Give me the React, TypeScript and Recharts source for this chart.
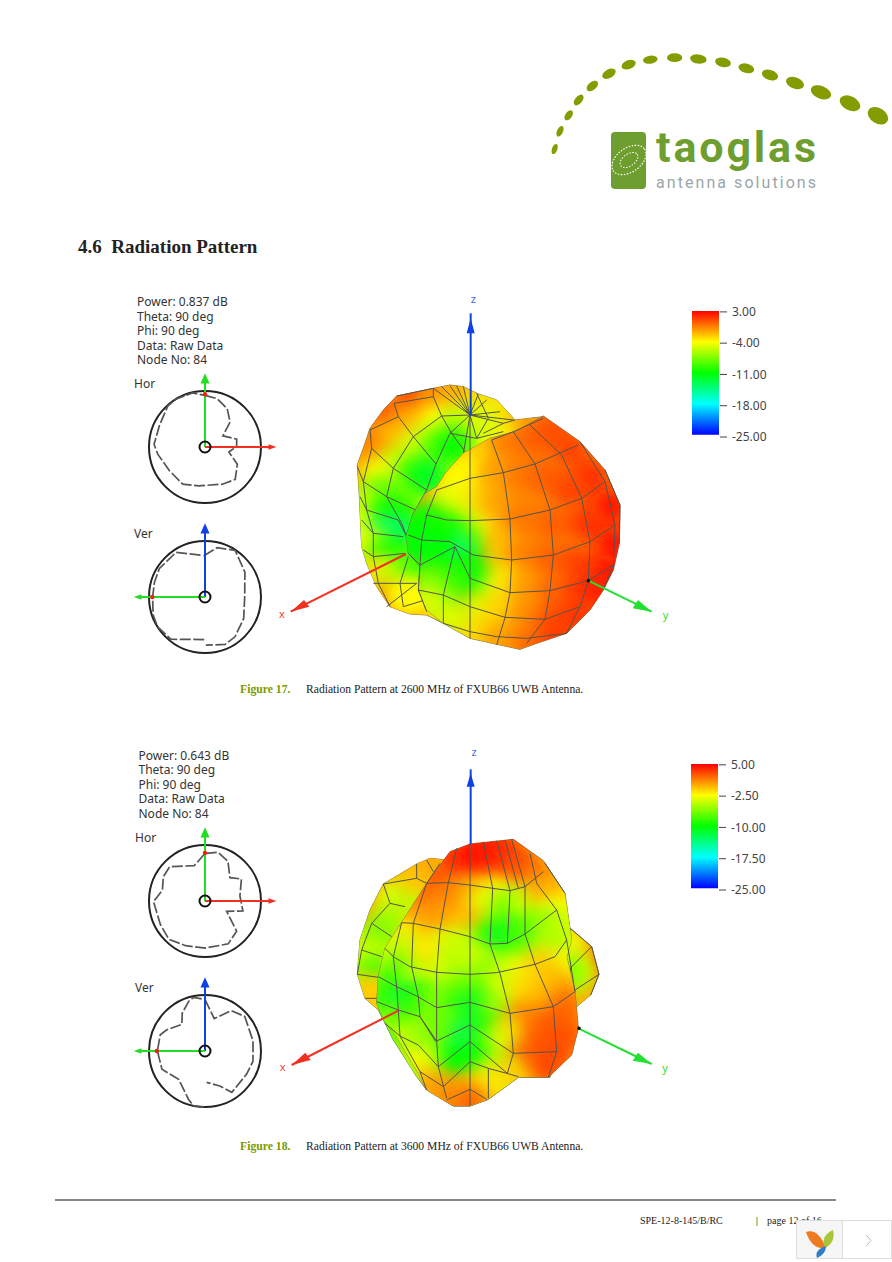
import { Bar, BarChart, PolarAngleAxis, PolarGrid, PolarRadiusAxis, Radar, RadarChart, Scatter, ScatterChart, XAxis, YAxis } from "recharts";

type Pair = [number, number];
type Sample = [number, number, number];

// ---- polar cuts: [angle clockwise from top, radius / outer circle], null = gap in the trace
const hor17: [number, number | null][] = [[0, 0.93], [14, 0.9], [30, 0.8], [45, 0.64], [58, 0.38], [76, 0.59], [89, 0.57], [102, 0.44], [118, 0.66], [137, 0.8], [155, 0.74], [189, 0.71], [211, 0.78], [236, 0.77], [261, 0.86], [273, 0.92], [296, 0.91], [318, 1], [329, 1.01], [347, 1], [360, 0.93]];
const ver17: [number, number | null][] = [[359, 0.74], [14, 0.91], [33, 0.99], [58, 0.84], [88, 0.71], [119, 0.79], [143, 0.89], [157, 0.92], [179, 0.86], [180, null], [181, 0.76], [219, 0.97], [238, 1], [251, 0.98], [270, 0.935], [286, 0.94], [302, 0.96], [327, 0.95], [340, 0.82], [358, 0.74]];
const hor18: [number, number | null][] = [[1, 0.85], [15, 0.9], [30, 0.82], [47, 0.61], [59, 0.76], [82, 0.63], [105, 0.7], [116, 0.43], [134, 0.78], [152, 0.87], [180, 0.84], [204, 0.87], [224, 0.94], [243, 0.9], [270, 0.92], [285, 0.785], [301, 0.86], [315, 0.88], [344, 0.66], [361, 0.85]];
const ver18: [number, number | null][] = [[0, 0.92], [3, 0.83], [16, 0.6], [33, 0.86], [49, 0.94], [78, 0.876], [102, 0.876], [119, 0.85], [147, 0.88], [157, 0.68], [177, 0.56], [179, null], [181, 1], [192, 1], [199, 0.91], [223, 0.69], [247, 0.835], [270, 0.85], [290, 0.85], [299, 0.78], [319, 0.63], [329, 0.79], [342, 0.935], [348, 0.98], [360, 0.92]];

// ---- colour scales
const ticks17 = [-25, -18, -11, -4, 3];
const ticks18 = [-25, -17.5, -10, -2.5, 5];
const bar17: Pair = [-24.5, 3.2];
const bar18: Pair = [-24.6, 5.2];

// ---- 3D pattern at 2600 MHz, projected outline / colour samples [x, y, dB] / mesh
const back17Outline: Pair[] = [[380, 318], [490, 295], [540, 285], [580, 290], [625, 312], [680, 330], [735, 390], [820, 380], [730, 430], [600, 600], [520, 1000], [470, 975], [420, 972], [360, 950], [320, 890], [290, 820], [275, 770], [268, 620], [262, 525], [285, 460], [300, 415], [340, 360]];
const back17Samples: Sample[] = [[420, 325, 1.6], [350, 375, 1], [300, 440, 0], [490, 320, -0.5], [560, 315, -1.5], [640, 335, -3], [700, 370, -3], [780, 395, -1], [420, 395, -1.5], [360, 450, -2], [300, 500, -0.5], [275, 560, -1], [500, 400, -4], [570, 400, -6], [640, 400, -5], [440, 470, -5], [380, 530, -6], [320, 560, -4], [500, 470, -8], [550, 470, -11], [440, 560, -10], [380, 620, -8], [320, 620, -9], [285, 650, -5], [480, 560, -12], [400, 680, -10], [340, 680, -11], [280, 720, -4], [340, 730, -13], [380, 740, -14], [295, 770, -4], [330, 800, -8], [370, 800, -11], [400, 830, -9], [310, 850, -3], [360, 870, -5], [400, 890, -6], [440, 860, -10], [350, 940, 0], [420, 960, 0], [400, 920, -4], [440, 920, -4]];
const back17Mesh: Pair[][] = [
  [[380, 318], [490, 295]], [[372, 340], [490, 320], [515, 378], [600, 375]], [[372, 340], [385, 380], [430, 440], [498, 522], [470, 600], [430, 670], [408, 740]],
  [[490, 295], [490, 320]], [[515, 378], [545, 430], [585, 485]], [[300, 420], [385, 380]], [[430, 440], [515, 378]], [[430, 440], [370, 535], [350, 620], [395, 700], [410, 740]],
  [[300, 420], [305, 475], [280, 575], [290, 660], [310, 730], [310, 800], [325, 880], [360, 950]], [[305, 475], [370, 535], [470, 600]], [[262, 530], [280, 575], [350, 620], [470, 675]],
  [[270, 620], [290, 660], [385, 690], [410, 740]], [[275, 690], [310, 730], [400, 740]], [[280, 780], [310, 800], [405, 790]], [[310, 880], [390, 880], [440, 880]],
  [[415, 800], [390, 880], [400, 950]], [[440, 880], [350, 950]], [[400, 950], [465, 930]], [[540, 430], [498, 522]], [[600, 375], [540, 430]], [[600, 375], [580, 490]],
  [[600, 375], [490, 295]], [[600, 375], [515, 290]], [[600, 375], [540, 287]], [[600, 375], [560, 288]], [[600, 375], [580, 290]], [[600, 375], [625, 312]], [[600, 375], [650, 330]], [[600, 375], [690, 365]], [[600, 375], [730, 390]], [[600, 375], [700, 400]], [[600, 375], [620, 445]],
  [[540, 430], [620, 445], [700, 425]], [[620, 310], [655, 385], [620, 445]], [[735, 390], [700, 400], [640, 430]],
];
const front17Outline: Pair[] = [[735, 425], [820, 378], [880, 420], [930, 455], [1005, 540], [1050, 645], [1048, 760], [1030, 840], [1000, 900], [960, 960], [890, 1030], [800, 1060], [750, 1078], [690, 1065], [600, 1045], [520, 1000], [470, 960], [445, 900], [450, 830], [415, 790], [408, 740], [430, 670], [465, 610], [500, 590], [530, 545], [580, 490], [660, 445]];
const front17Samples: Sample[] = [[640, 470, -2.5], [720, 470, -0.5], [790, 450, 0.3], [850, 420, 0.8], [900, 480, 1.2], [960, 560, 1.8], [590, 530, -3.5], [680, 560, -1.5], [760, 560, -0.3], [830, 560, 0.4], [900, 600, 1.2], [1020, 650, 2.7], [610, 630, -2.8], [680, 670, -1.5], [760, 690, -0.3], [850, 700, 0.4], [950, 700, 1.6], [1030, 760, 2.7], [620, 720, -3.5], [690, 780, -2.5], [760, 800, -0.6], [840, 810, 0.3], [920, 820, 1.2], [1010, 850, 2.6], [640, 880, -6], [700, 880, -3.5], [770, 900, -1.3], [850, 910, 0.2], [930, 900, 1.2], [980, 900, 2.2], [620, 960, -5], [690, 970, -3], [770, 980, -1], [850, 990, 0.6], [920, 980, 1.6], [610, 1025, -3], [700, 1050, -1.5], [780, 1060, 0], [860, 1040, 1.4], [555, 570, -4], [530, 630, -4.5], [560, 690, -5], [540, 730, -10], [580, 760, -9], [550, 790, -15], [590, 840, -11], [550, 860, -10], [520, 920, -9], [500, 740, -11], [470, 690, -10.5], [450, 770, -11.5], [480, 810, -11], [430, 720, -11], [480, 880, -8], [470, 940, -5], [540, 985, -5]];
const front17Mesh: Pair[][] = [
  [[665, 450], [730, 425], [820, 385]], [[500, 600], [600, 565], [700, 548], [795, 522], [925, 465]], [[470, 675], [530, 690], [600, 692], [720, 687], [840, 660], [935, 625], [1005, 575]],
  [[415, 735], [455, 750], [540, 755], [610, 795], [725, 810], [850, 795], [960, 755], [1035, 705]], [[415, 790], [450, 825], [555, 770], [600, 865], [720, 908], [840, 902], [955, 872], [1030, 825]],
  [[445, 900], [520, 915], [600, 950], [705, 982], [825, 988], [930, 950]], [[520, 1000], [600, 1025], [680, 1040], [770, 1045], [890, 1030]],
  [[600, 375], [600, 1045]], [[665, 450], [700, 548], [720, 687], [725, 810], [720, 908], [705, 983], [680, 1065]], [[730, 425], [795, 522], [840, 660], [850, 795], [840, 902], [825, 988], [770, 1060]],
  [[780, 405], [875, 495], [935, 625], [960, 755], [955, 872], [930, 950], [890, 1030]], [[930, 455], [1005, 575], [1035, 705], [1030, 825], [1000, 900]], [[1005, 540], [1050, 645], [1048, 760]],
  [[500, 600], [470, 675], [455, 750], [450, 825], [445, 900], [470, 965]], [[555, 770], [520, 915], [520, 1000]],
];
const xAxis17: Pair[] = [[408, 792], [62, 965]];
const yAxis17: Pair[] = [[955, 872], [1145, 965]];
const zAxis17: Pair[] = [[602, 375], [602, 70]];
const xHead17: Pair[] = [[62, 965], [118, 950], [102, 930]];
const yHead17: Pair[] = [[1145, 965], [1088, 955], [1104, 930]];
const zHead17: Pair[] = [[602, 85], [590, 130], [614, 130]];
const labels17 = [{ x: 36, y: 985, name: "x", fill: "#f04030" }, { x: 610, y: 40, name: "z", fill: "#4a6cf0" }, { x: 1187, y: 986, name: "y", fill: "#33dd33" }];
const node17: Pair[] = [[955, 872]];

// ---- 3D pattern at 3600 MHz
const back18Outline: Pair[] = [[340, 432], [440, 372], [480, 355], [530, 360], [700, 500], [895, 560], [965, 620], [987, 703], [962, 765], [920, 800], [840, 1012], [745, 1012], [655, 1078], [600, 1098], [550, 1098], [470, 1050], [440, 1010], [370, 900], [325, 810], [285, 775], [262, 703], [270, 600], [300, 510]];
const back18Samples: Sample[] = [[470, 375, 0], [400, 410, 1], [345, 470, 1], [295, 540, 0.5], [280, 610, -2], [370, 470, -3], [420, 470, -4.5], [360, 540, -5], [320, 590, -6.5], [300, 650, -4], [275, 700, -3], [310, 700, -8], [290, 760, -1], [330, 775, -1], [930, 620, 1.5], [965, 680, 2.8], [945, 740, 0.5], [930, 785, 0], [900, 610, -3], [920, 690, -3], [900, 700, -6], [440, 410, -1], [490, 370, 0], [370, 890, -7], [420, 980, -5]];
const back18Mesh: Pair[][] = [
  [[340, 432], [360, 490], [305, 550], [275, 630], [262, 703]], [[340, 432], [440, 415], [440, 372]], [[360, 490], [405, 500]], [[305, 550], [365, 590]], [[275, 630], [335, 650]], [[262, 703], [325, 712]], [[285, 775], [325, 775]],
  [[470, 360], [490, 395]], [[440, 415], [470, 430]], [[895, 560], [965, 620], [987, 703], [962, 765]], [[965, 620], [905, 680], [890, 705], [915, 755]], [[987, 703], [915, 750]], [[860, 630], [890, 600]], [[905, 680], [895, 720]],
];
const front18Outline: Pair[] = [[600, 312], [730, 298], [820, 362], [885, 460], [905, 600], [890, 650], [915, 755], [925, 865], [905, 945], [835, 1012], [745, 1012], [655, 1078], [600, 1098], [550, 1098], [470, 1050], [445, 1000], [380, 890], [340, 840], [320, 790], [325, 710], [345, 625], [395, 548], [470, 430], [540, 335]];
const front18Samples: Sample[] = [[600, 345, 4.5], [555, 365, 4], [650, 335, 4.5], [700, 335, 4.2], [750, 370, 3], [500, 420, 3], [800, 410, 2], [470, 470, 2], [540, 470, 1.5], [600, 470, 0.5], [640, 500, -3], [680, 510, -3.5], [720, 510, -7], [770, 500, -4], [830, 450, 0], [860, 520, -2.5], [420, 530, 1], [430, 590, 0], [510, 530, 0.5], [590, 550, -0.5], [540, 620, -4], [600, 630, -4], [670, 590, -9], [710, 605, -11], [770, 580, -8], [830, 560, -6], [880, 580, -4], [390, 580, -2], [760, 630, -8], [840, 620, -5], [870, 680, -3], [360, 640, -4], [420, 650, -5], [470, 640, -2], [470, 700, -1.5], [550, 670, -4.5], [620, 670, -4], [680, 690, -6], [750, 700, -2.5], [810, 680, -1], [870, 750, 0], [345, 720, -6], [395, 720, -9], [440, 720, -4], [500, 730, -3.5], [570, 740, -6], [630, 750, -7], [700, 730, -4], [770, 750, -1.5], [830, 760, -0.5], [890, 800, 1.8], [340, 790, -9], [410, 790, -12], [450, 780, -9], [500, 790, -6], [560, 800, -8], [610, 810, -11], [680, 820, -5], [760, 840, 1.5], [840, 860, 2.5], [890, 880, 2.5], [360, 850, -6], [420, 850, -9], [470, 860, -6], [530, 860, -7], [600, 880, -12], [650, 870, -9], [720, 880, -1], [800, 900, 2.2], [860, 930, 2.8], [400, 900, -4], [460, 930, -6], [520, 930, -7], [590, 930, -13], [650, 930, -8], [700, 920, -3], [760, 960, 2.5], [830, 980, 3], [440, 970, -3], [500, 1000, -3], [560, 970, -10], [620, 970, -10], [680, 990, -5], [720, 1005, -1], [480, 1040, 0], [540, 1065, 1], [600, 1060, 0], [650, 1040, -2], [600, 1088, 2]];
const front18Mesh: Pair[][] = [
  [[600, 312], [600, 1098]], [[470, 430], [535, 428], [600, 435], [668, 445], [720, 452], [765, 440], [820, 395]], [[395, 548], [430, 550], [510, 567], [600, 590], [660, 612], [712, 610], [765, 582], [860, 510]],
  [[345, 625], [370, 650], [420, 680], [500, 697], [600, 703], [680, 698], [795, 673], [855, 650], [890, 600]], [[325, 710], [380, 740], [440, 768], [500, 803], [600, 787], [720, 820], [850, 800], [915, 755]],
  [[320, 785], [385, 810], [450, 830], [500, 903], [600, 855], [730, 940], [860, 935]], [[345, 850], [390, 888], [445, 915], [505, 980], [600, 905], [712, 1000]], [[450, 995], [520, 1040], [600, 965], [655, 985], [710, 1000], [745, 1010]], [[530, 1080], [600, 1048], [650, 1078]],
  [[560, 325], [535, 428], [510, 567], [500, 697], [500, 803], [500, 903], [505, 980], [530, 1075]], [[510, 370], [470, 430], [430, 550], [425, 680], [445, 770], [450, 830], [497, 905]], [[395, 548], [370, 650], [380, 740], [385, 810], [390, 888], [450, 995], [470, 1050]],
  [[640, 305], [668, 445], [660, 612], [690, 700], [720, 820], [730, 940], [712, 1000]], [[680, 302], [720, 452], [712, 610]], [[705, 300], [745, 445]], [[725, 298], [765, 440], [765, 582], [795, 673], [850, 800], [860, 935], [835, 1012]],
  [[780, 340], [800, 430], [860, 510], [890, 600], [915, 755]], [[655, 985], [655, 1075]], [[825, 370], [885, 460]],
];
const xAxis18: Pair[] = [[385, 812], [65, 975]];
const yAxis18: Pair[] = [[925, 865], [1145, 972]];
const zAxis18: Pair[] = [[602, 312], [602, 88]];
const xHead18: Pair[] = [[65, 975], [122, 960], [106, 938]];
const yHead18: Pair[] = [[1145, 972], [1088, 962], [1104, 938]];
const zHead18: Pair[] = [[602, 100], [590, 140], [614, 140]];
const labels18 = [{ x: 38, y: 993, name: "x", fill: "#f04030" }, { x: 612, y: 49, name: "z", fill: "#4a6cf0" }, { x: 1185, y: 995, name: "y", fill: "#33dd33" }];
const node18: Pair[] = [[927, 865]];

const info17 = ["Power: 0.837 dB", "Theta: 90 deg", "Phi: 90 deg", "Data: Raw Data", "Node No: 84"];
const info18 = ["Power: 0.643 dB", "Theta: 90 deg", "Phi: 90 deg", "Data: Raw Data", "Node No: 84"];

// logo dots: x, y, rx, ry, rotation
const logoDots = [[44, 327, 8, 16, 20], [60, 274, 9, 17, 25], [86, 226, 10, 17, 35], [116, 180, 11, 19, 40], [157, 138, 20, 12, -40], [207, 101, 22, 13, -30], [266, 74, 22, 13, -20], [331, 59, 22, 12, -8], [404, 53, 23, 13, 0], [475, 57, 25, 14, 8], [549, 67, 24, 14, 12], [619, 85, 24, 14, 15], [690, 105, 25, 15, 18], [765, 129, 28, 17, 20], [843, 157, 32, 19, 22], [930, 190, 33, 21, 27], [1014, 227, 33, 23, 32]];

const UI = "'Noto Sans', sans-serif";
const SERIF = "'Liberation Serif', serif";
const OLIVE = "#7c9a00";

const toPts = (a: Pair[]) => a.map(([x, y]) => ({ x, y }));
const noMark = () => <g />;

function jet(db: number, min: number, max: number) {
  const t = Math.max(0, Math.min(1, (db - min) / (max - min))) * 4;
  const stops = [[0, 0, 255], [0, 255, 255], [0, 255, 0], [255, 255, 0], [255, 0, 0]];
  const i = Math.min(3, Math.floor(t));
  const f = t - i;
  const c = stops[i].map((v, k) => Math.round(v + (stops[i + 1][k] - v) * f));
  return `rgb(${c[0]},${c[1]},${c[2]})`;
}

const polygonLine = (fill: string, clipId?: string, stroke = "none") => (p: any) => {
  const pts = p.points.map((q: any) => `${q.x},${q.y}`).join(" ");
  return (
    <g>
      {clipId && (
        <clipPath id={clipId}>
          <polygon points={pts} />
        </clipPath>
      )}
      <polygon points={pts} fill={fill} stroke={stroke} strokeWidth={1} />
    </g>
  );
};

function layer(id: string, outline: Pair[], samples: Sample[], mesh: Pair[][], min: number, max: number, base: number) {
  const sampleData = samples.map(([x, y, db]) => ({ x, y, db }));
  return [
    <Scatter key={id + "-o"} data={toPts(outline)} line={polygonLine(jet(base, min, max), id, "#77775a")} shape={noMark} isAnimationActive={false} />,
    <Scatter
      key={id + "-s"}
      data={sampleData}
      isAnimationActive={false}
      shape={(p: any) => <circle cx={p.cx} cy={p.cy} r={19} fill={jet(p.payload.db, min, max)} filter="url(#soft)" clipPath={`url(#${id})`} />}
    />,
    ...mesh.map((m, i) => (
      <Scatter key={id + "-m" + i} data={toPts(m)} line={{ stroke: "#55554a", strokeWidth: 1 }} shape={noMark} isAnimationActive={false} />
    )),
  ];
}

function axisSeries(line: Pair[], head: Pair[], color: string) {
  return [
    <Scatter key={color + "l"} data={toPts(line)} line={{ stroke: color, strokeWidth: 2 }} shape={noMark} isAnimationActive={false} />,
    <Scatter key={color + "h"} data={toPts(head)} line={polygonLine(color)} shape={noMark} isAnimationActive={false} />,
  ];
}

function Lobe({ left, top, height, children }: any) {
  return (
    <div style={{ position: "absolute", left, top }}>
      <ScatterChart width={400} height={height} margin={{ top: 0, right: 0, bottom: 0, left: 0 }}>
        <XAxis type="number" dataKey="x" domain={[0, 1200]} hide />
        <YAxis type="number" dataKey="y" domain={[0, height * 3]} reversed hide />
        {children}
      </ScatterChart>
    </div>
  );
}

const axisLabel = (p: any) => (
  <text x={p.cx} y={p.cy} fontFamily={UI} fontSize={11} fill={p.payload.fill} textAnchor="middle">
    {p.payload.name}
  </text>
);

function ColorBar({ left, top, ticks, range, id }: any) {
  const min = ticks[0];
  const max = ticks[ticks.length - 1];
  return (
    <div style={{ position: "absolute", left, top }}>
      <BarChart width={90} height={146} data={[{ name: "scale", range }]} margin={{ top: 11, right: 0, bottom: 9, left: 0 }} barCategoryGap={0}>
        <defs>
          <linearGradient id={id} x1="0" y1="1" x2="0" y2="0">
            {[0, 0.25, 0.5, 0.75, 1].map((t) => (
              <stop key={t} offset={t} stopColor={jet(min + t * (max - min), min, max)} />
            ))}
          </linearGradient>
        </defs>
        <XAxis dataKey="name" hide />
        <YAxis
          type="number"
          orientation="right"
          domain={[min, max]}
          ticks={ticks}
          interval={0}
          width={61}
          axisLine={false}
          tickSize={7}
          tickMargin={5}
          tickLine={{ stroke: "#444" }}
          tick={{ fontFamily: UI, fontSize: 12, fill: "#444" }}
          tickFormatter={(v: number) => v.toFixed(2)}
        />
        <Bar dataKey="range" barSize={27} fill={`url(#${id})`} isAnimationActive={false} />
      </BarChart>
    </div>
  );
}

const BOX = 170;
const cross = {
  up: { line: [[0, 0], [0, 1.2]] as Pair[], head: [[0, 1.3], [-0.08, 1.12], [0.08, 1.12]] as Pair[] },
  right: { line: [[0, 0], [1.2, 0]] as Pair[], head: [[1.26, 0], [1.12, -0.05], [1.12, 0.05]] as Pair[] },
  left: { line: [[0, 0], [-1.2, 0]] as Pair[], head: [[-1.26, 0], [-1.12, -0.05], [-1.12, 0.05]] as Pair[] },
};

// the traces have gaps, so the radar is drawn as open runs rather than one closed polygon
const cutTrace = (p: any) => {
  let d = "";
  let pen = false;
  p.points.forEach((q: any) => {
    if (q.payload.r == null) {
      pen = false;
      return;
    }
    d += `${pen ? "L" : "M"}${q.x},${q.y}`;
    pen = true;
  });
  return <path d={d} fill="none" stroke="#555" strokeWidth={1.7} strokeDasharray="11 2.5" />;
};

function Disk({ cx, cy, cut, upColor, side, sideColor, marker }: any) {
  const data = cut.map(([angle, r]: [number, number | null]) => ({ angle, r }));
  return (
    <div style={{ position: "absolute", left: cx - BOX / 2, top: cy - BOX / 2, width: BOX, height: BOX }}>
      <div style={{ position: "absolute", left: 0, top: 0 }}>
        <RadarChart width={BOX} height={BOX} data={data} outerRadius={56} startAngle={90} endAngle={-270} margin={{ top: 0, right: 0, bottom: 0, left: 0 }}>
          <PolarAngleAxis dataKey="angle" type="number" domain={[0, 360]} tick={false} axisLine={false} />
          <PolarRadiusAxis domain={[0, 1]} tick={false} axisLine={false} />
          <PolarGrid gridType="circle" radialLines={false} polarRadius={[56]} stroke="#222" strokeWidth={2} />
          <Radar dataKey="r" shape={cutTrace} isAnimationActive={false} />
        </RadarChart>
      </div>
      <div style={{ position: "absolute", left: 0, top: 0 }}>
        <ScatterChart width={BOX} height={BOX} margin={{ top: 0, right: 0, bottom: 0, left: 0 }}>
          <XAxis type="number" dataKey="x" domain={[-1.5, 1.5]} hide />
          <YAxis type="number" dataKey="y" domain={[-1.5, 1.5]} hide />
          {axisSeries(cross.up.line, cross.up.head, upColor)}
          {axisSeries(cross[side as "left" | "right"].line, cross[side as "left" | "right"].head, sideColor)}
          <Scatter data={toPts([marker])} isAnimationActive={false} shape={(p: any) => <circle cx={p.cx} cy={p.cy} r={2.2} fill="#f02010" />} />
          <Scatter data={toPts([[0, 0]])} isAnimationActive={false} shape={(p: any) => <circle cx={p.cx} cy={p.cy} r={5.5} fill="none" stroke="#111" strokeWidth={2} />} />
        </ScatterChart>
      </div>
    </div>
  );
}

function InfoBlock({ x, y, lines }: { x: number; y: number; lines: string[] }) {
  return (
    <>
      {lines.map((t, i) => (
        <text key={t} x={x} y={y + i * 14.6} fontFamily={UI} fontSize={12} fill="#333">
          {t}
        </text>
      ))}
    </>
  );
}

function Caption({ y, no, text }: { y: number; no: string; text: string }) {
  return (
    <>
      <text x={240} y={y} fontFamily={SERIF} fontSize={11.7} fontWeight="bold" fill={OLIVE}>{no}</text>
      <text x={306} y={y} fontFamily={SERIF} fontSize={11.6} fill="#222">{text}</text>
    </>
  );
}

export default function App() {
  return (
    <div style={{ position: "absolute", left: 0, top: 0, width: 892, height: 1262, background: "#fff", overflow: "hidden" }}>
      <svg width={0} height={0} style={{ position: "absolute" }}>
        <defs>
          <filter id="soft" x="-100%" y="-100%" width="300%" height="300%">
            <feGaussianBlur stdDeviation={9} />
          </filter>
        </defs>
      </svg>

      <svg width={892} height={1262} style={{ position: "absolute", left: 0, top: 0 }}>
        <g transform="translate(540,40) scale(0.3333)">
          {logoDots.map(([x, y, rx, ry, rot]) => (
            <ellipse key={x} cx={x} cy={y} rx={rx} ry={ry} fill="#859c00" transform={`rotate(${rot} ${x} ${y})`} />
          ))}
        </g>
        <rect x={611} y={132} width={35} height={57} rx={4} fill="#6e9e2f" />
        <ellipse cx={629} cy={160} rx={19} ry={12} fill="none" stroke="#fff" strokeWidth={1.2} strokeDasharray="1.5 1.5" transform="rotate(-35 629 160)" />
        <ellipse cx={629} cy={160} rx={10} ry={6} fill="none" stroke="#fff" strokeWidth={1} strokeDasharray="1.5 1.5" transform="rotate(-35 629 160)" />
        <text x={656} y={162} fontFamily="Roboto, sans-serif" fontWeight="bold" fontSize={43} fill="#6e9e2f" textLength={160} lengthAdjust="spacing">taoglas</text>
        <text x={656} y={188} fontFamily="Roboto, sans-serif" fontSize={16} fill="#9aa6a8" textLength={160} lengthAdjust="spacing">antenna solutions</text>

        <text x={78} y={253} fontFamily={SERIF} fontSize={19} fontWeight="bold" fill="#222" xmlSpace="preserve">4.6  Radiation Pattern</text>

        <InfoBlock x={137} y={306} lines={info17} />
        <text x={134} y={388} fontFamily={UI} fontSize={12} fill="#333">Hor</text>
        <text x={134} y={538} fontFamily={UI} fontSize={12} fill="#333">Ver</text>
        <Caption y={693} no="Figure 17." text="Radiation Pattern at 2600 MHz of FXUB66 UWB Antenna." />

        <InfoBlock x={138.5} y={759.5} lines={info18} />
        <text x={135} y={842} fontFamily={UI} fontSize={12} fill="#333">Hor</text>
        <text x={135} y={992} fontFamily={UI} fontSize={12} fill="#333">Ver</text>
        <Caption y={1150} no="Figure 18." text="Radiation Pattern at 3600 MHz of FXUB66 UWB Antenna." />

        <line x1={55} y1={1200} x2={836} y2={1200} stroke="#111" strokeWidth={1} />
        <text x={640} y={1224} fontFamily={SERIF} fontSize={10} fill="#222">SPE-12-8-145/B/RC</text>
        <line x1={757} y1={1217} x2={757} y2={1226} stroke={OLIVE} strokeWidth={1} />
        <text x={767} y={1224} fontFamily={SERIF} fontSize={10} fill="#222">page 12 of 16</text>

        <rect x={796.5} y={1220.5} width={46} height={38} fill="#f6f6f6" stroke="#ddd" />
        <rect x={842.5} y={1220.5} width={49} height={38} fill="#fff" stroke="#ddd" />
        <path d="M806 1232 Q818 1228 826 1248 Q812 1250 806 1232Z" fill="#ee7a22" />
        <path d="M833 1230 Q836 1242 825 1248 Q820 1236 833 1230Z" fill="#a9c53a" />
        <path d="M826 1246 Q826 1254 817 1258 Q814 1250 826 1246Z" fill="#2f7fc8" />
        <path d="M866 1235 L871 1240.5 L866 1246" fill="none" stroke="#bbb" strokeWidth={1} />
      </svg>

      <Disk cx={204.5} cy={447} cut={hor17} upColor="#22dd22" side="right" sideColor="#f03020" marker={[0, 0.93]} />
      <Disk cx={204.5} cy={596.5} cut={ver17} upColor="#1040e0" side="left" sideColor="#22dd22" marker={[-0.93, 0]} />
      <Disk cx={205.3} cy={900.7} cut={hor18} upColor="#22dd22" side="right" sideColor="#f03020" marker={[0, 0.85]} />
      <Disk cx={205.3} cy={1050.5} cut={ver18} upColor="#1040e0" side="left" sideColor="#22dd22" marker={[-0.85, 0]} />

      <Lobe left={270} top={290} height={370}>
        {layer("b17", back17Outline, back17Samples, back17Mesh, -25, 3, -4)}
        {layer("f17", front17Outline, front17Samples, front17Mesh, -25, 3, -1)}
        {axisSeries(xAxis17, xHead17, "#f03020")}
        {axisSeries(yAxis17, yHead17, "#22e030")}
        {axisSeries(zAxis17, zHead17, "#1040e0")}
        <Scatter data={toPts(node17)} isAnimationActive={false} shape={(p: any) => <circle cx={p.cx} cy={p.cy} r={1.8} fill="#111" />} />
        <Scatter data={labels17} isAnimationActive={false} shape={axisLabel} />
      </Lobe>

      <Lobe left={270} top={740} height={375}>
        {layer("b18", back18Outline, back18Samples, back18Mesh, -25, 5, -1)}
        {layer("f18", front18Outline, front18Samples, front18Mesh, -25, 5, -2)}
        {axisSeries(xAxis18, xHead18, "#f03020")}
        {axisSeries(yAxis18, yHead18, "#22e030")}
        {axisSeries(zAxis18, zHead18, "#1040e0")}
        <Scatter data={toPts(node18)} isAnimationActive={false} shape={(p: any) => <circle cx={p.cx} cy={p.cy} r={1.8} fill="#111" />} />
        <Scatter data={labels18} isAnimationActive={false} shape={axisLabel} />
      </Lobe>

      <ColorBar left={691} top={300} ticks={ticks17} range={bar17} id="scale17" />
      <ColorBar left={690} top={753} ticks={ticks18} range={bar18} id="scale18" />
    </div>
  );
}
